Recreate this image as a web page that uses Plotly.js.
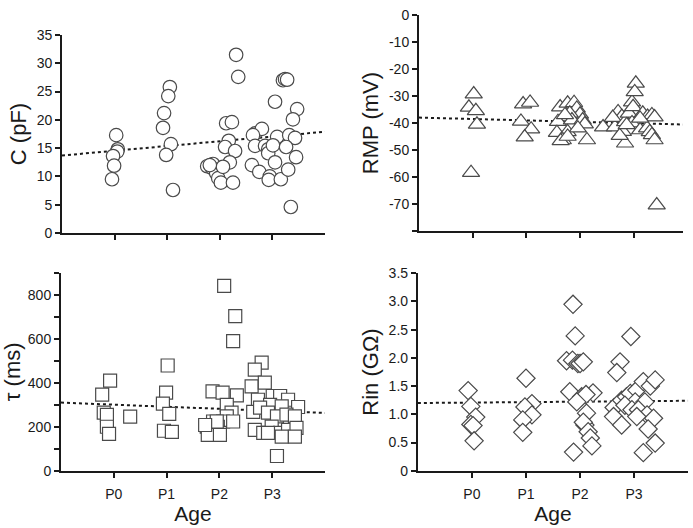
<!DOCTYPE html>
<html>
<head>
<meta charset="utf-8">
<script src="https://cdn.plot.ly/plotly-3.0.1.min.js"></script>
<style>html,body{margin:0;padding:0;background:#fff;}#chart{width:693px;height:528px;}</style>
</head>
<body>
<div id="chart"></div>
<script>
// Age categories (P0..P3 placed at 1..4 on a numeric axis, points jittered)
const ageLabels = ['P0', 'P1', 'P2', 'P3'];
const agePos = [1, 2, 3, 4];

// Capacitance C (pF)
const cX = [1.03,1.06,1.05,0.97,0.99,0.95,
  2.05,2.02,1.94,1.92,2.07,1.98,2.11,
  3.31,3.35,3.12,3.23,3.17,3.10,3.29,3.19,2.76,2.87,2.85,2.93,2.97,3.02,3.06,3.25,2.81,
  4.20,4.24,4.28,4.05,4.47,4.39,3.67,3.80,3.63,4.09,4.32,4.43,3.67,3.86,3.92,3.92,4.01,4.26,4.05,4.45,3.61,3.75,3.95,3.93,4.16,4.30,4.35];
const cY = [17.3,14.8,14.4,13.6,11.9,9.5,
  25.8,24.2,21.2,18.6,15.7,13.8,7.6,
  31.5,27.6,19.4,19.6,16.3,15.2,14.5,12.5,11.8,12.2,11.5,10.6,9.7,8.9,11.7,8.9,12.0,
  27.0,27.2,27.1,23.2,21.9,20.1,17.6,18.4,17.3,17.0,17.3,16.8,15.4,15.4,14.8,14.1,15.5,15.2,12.5,13.4,12.0,10.8,10.0,9.4,9.5,11.2,4.6];
const cFitX = [0, 5];
const cFitY = [13.7, 17.9];

// Resting membrane potential RMP (mV)
const rmpX = [1.02,0.93,1.06,1.08,0.97,
  1.94,2.07,1.90,2.09,1.97,
  2.63,2.77,2.89,2.94,3.00,2.59,2.81,2.85,3.05,3.09,2.57,2.77,2.96,2.68,2.64,2.77,3.13,2.72,
  3.43,3.65,3.71,3.78,3.61,3.84,3.80,3.84,3.74,3.97,4.04,4.02,3.91,3.99,3.97,4.12,4.17,4.26,4.34,4.39,4.25,4.30,4.34,4.39,4.43,4.12,3.87];
const rmpY = [-29.3,-34.2,-35.5,-40.5,-58.4,
  -33,-32.4,-39.4,-42.3,-45.2,
  -34.1,-32.7,-32.5,-34.6,-36.8,-39.5,-36.4,-38.9,-38.9,-40.4,-43.6,-43.3,-41.9,-46.3,-46.6,-45.0,-46.3,-37.0,
  -41.5,-41.5,-35.9,-37.6,-38.0,-39.6,-43.2,-47.5,-44.7,-32.3,-25.3,-28.5,-36.4,-34.0,-40.0,-42.6,-36.4,-37.6,-37.0,-37.8,-41.9,-43.3,-44.4,-46.3,-70.4,-38.3,-40.7];
const rmpFitX = [0, 5];
const rmpFitY = [-38, -40.6];

// Membrane time constant tau (ms)
const tauX = [0.93,0.78,0.81,0.87,0.87,0.91,1.31,
  2.02,1.99,1.93,2.05,1.95,2.10,
  3.09,3.30,3.26,2.87,3.06,3.33,3.14,3.23,3.14,2.88,3.07,3.26,2.76,2.97,2.85,3.01,2.78,3.01,2.95,2.73,
  3.80,3.67,3.61,3.86,3.73,3.64,4.01,4.15,4.30,4.49,3.96,4.18,3.77,3.92,4.09,4.27,4.43,3.67,3.83,3.99,4.15,4.30,4.46,4.43,4.18,4.09,3.92];
const tauY = [410,346,264,254,200,168,246,
  479,355,305,259,182,177,
  841,704,590,361,355,343,300,264,247,224,224,224,201,200,172,172,163,163,224,208,
  492,460,384,401,323,268,340,340,323,290,300,293,287,264,247,255,247,186,172,201,172,186,195,155,155,67,172];
const tauFitX = [0, 5];
const tauFitY = [310, 263];

// Input resistance Rin (GΩ)
const rinX = [0.93,0.98,1.07,0.98,1.02,1.04,
  2.00,2.11,1.98,2.11,1.94,1.94,
  2.87,2.91,2.75,2.86,2.96,3.00,3.06,2.81,3.24,3.03,3.11,2.94,3.12,3.09,3.06,3.15,3.19,3.22,2.88,
  3.94,3.74,3.68,3.63,3.77,3.86,3.93,4.05,4.17,4.30,4.39,4.02,4.20,3.83,3.96,3.62,3.77,4.08,4.24,4.36,4.26,4.17,4.39,4.05];
const rinY = [1.42,1.14,0.95,0.82,0.80,0.53,
  1.64,1.19,1.13,0.99,0.90,0.68,
  2.95,2.39,1.95,1.96,1.90,1.90,1.93,1.40,1.38,1.31,1.35,1.22,1.02,0.81,0.86,0.69,0.58,0.44,0.33,
  2.38,1.93,1.74,1.12,1.25,1.31,1.37,1.43,1.58,1.50,1.61,1.22,1.22,1.16,1.08,0.96,0.81,1.08,0.99,0.93,0.74,0.32,0.49,0.96];
const rinFitX = [0, 5];
const rinFitY = [1.2, 1.24];

const FONT = 'Liberation Sans, Arial, sans-serif';
const ink = '#1a1a1a';
const mline = {color: '#4a4a4a', width: 1.2};

function pts(x, y, xa, ya, symbol, size) {
  return {x: x, y: y, xaxis: xa, yaxis: ya, type: 'scatter', mode: 'markers',
    marker: {symbol: symbol, size: size, color: '#fff', line: mline}, hoverinfo: 'x+y'};
}
function fit(x, y, xa, ya) {
  return {x: x, y: y, xaxis: xa, yaxis: ya, type: 'scatter', mode: 'lines',
    line: {color: ink, width: 2, dash: 'dot'}, hoverinfo: 'skip'};
}

const data = [
  fit(cFitX, cFitY, 'x', 'y'),
  pts(cX, cY, 'x', 'y', 'circle', 13.5),
  fit(rmpFitX, rmpFitY, 'x2', 'y2'),
  pts(rmpX, rmpY, 'x2', 'y2', 'triangle-up', 15),
  fit(tauFitX, tauFitY, 'x3', 'y3'),
  pts(tauX, tauY, 'x3', 'y3', 'square', 13),
  fit(rinFitX, rinFitY, 'x4', 'y4'),
  pts(rinX, rinY, 'x4', 'y4', 'diamond', 14)
];

function xax(domain, range, labels, anchor) {
  return {domain: domain, range: range, anchor: anchor,
    tickvals: agePos, ticktext: ageLabels, showticklabels: labels,
    showline: true, linecolor: ink, linewidth: 2, ticks: 'outside', ticklen: 5, tickwidth: 2, tickcolor: ink,
    ticklabelstandoff: 4,
    showgrid: false, zeroline: false, tickfont: {family: FONT, size: 14, color: ink},
    title: labels ? {text: 'Age', font: {family: FONT, size: 21, color: ink}, standoff: 3} : {text: ''}};
}
function yax(domain, range, anchor, title, extra) {
  return Object.assign({domain: domain, range: range, anchor: anchor,
    showline: true, linecolor: ink, linewidth: 2, ticks: 'outside', ticklen: 5, tickwidth: 2, tickcolor: ink,
    showgrid: false, zeroline: false, tickfont: {family: FONT, size: 14, color: ink},
    title: {text: title, font: {family: FONT, size: 22, color: ink}, standoff: 4}}, extra || {});
}

const layout = {
  width: 693, height: 528,
  margin: {l: 0, r: 0, t: 0, b: 0},
  paper_bgcolor: '#fff', plot_bgcolor: '#fff',
  showlegend: false,
  font: {family: FONT, color: ink},
  xaxis: xax([0.0895, 0.469], [0, 5], false, 'y'),
  yaxis: yax([0.5587, 0.9337], [0, 35], 'x', 'C (pF)', {tickvals: [0,5,10,15,20,25,30,35]}),
  xaxis2: xax([0.6046, 0.9856], [0, 4.92], false, 'y2'),
  yaxis2: yax([0.5625, 0.9716], [-80, 0], 'x2', 'RMP (mV)',
    {tickvals: [-80,-70,-60,-50,-40,-30,-20,-10,0], ticktext: ['','-70','-60','-50','-40','-30','-20','-10','0']}),
  xaxis3: xax([0.088, 0.469], [0, 5], true, 'y3'),
  yaxis3: yax([0.1085, 0.483], [0, 900], 'x3', 'τ (ms)',
    {tickvals: [0,200,400,600,800], minor: {ticks: 'outside', dtick: 100, ticklen: 5, tickwidth: 2, tickcolor: ink, showgrid: false}}),
  xaxis4: xax([0.603, 0.993], [0, 5], true, 'y4'),
  yaxis4: yax([0.1085, 0.4824], [0, 3.5], 'x4', 'Rin (GΩ)',
    {tickvals: [0,0.5,1,1.5,2,2.5,3,3.5], ticktext: ['0','0.5','1.0','1.5','2.0','2.5','3.0','3.5']})
};

Plotly.newPlot('chart', data, layout, {displayModeBar: false, staticPlot: true});
</script>
</body>
</html>
